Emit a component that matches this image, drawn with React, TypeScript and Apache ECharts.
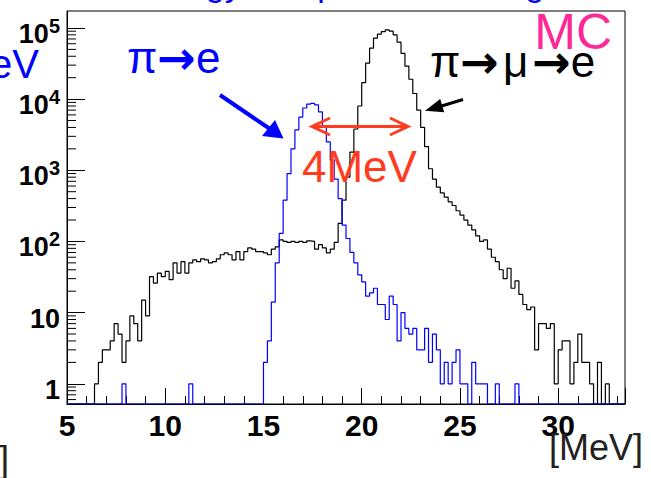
import React, { useEffect, useRef } from "react";
import * as echarts from "echarts";

// Histogram binning (MeV)
const BIN_START = 5;
const BIN_WIDTH = 0.2;
const X_MIN = 5;
const X_MAX = 33.4;
const Y_MIN = 0.52;
const Y_MAX = 173000;

// pi -> mu -> e (black) counts per bin
const piMuE = [
  0, 0, 0, 0, 0, 0, 0, 1, 2, 3,
  3, 4, 7, 5, 2, 4, 9, 7, 4, 15,
  9, 32, 26, 36, 32, 38, 29, 50, 36, 52,
  36, 50, 55, 52, 57, 55, 50, 52, 57, 65,
  69, 65, 55, 72, 55, 72, 81, 78, 72, 72,
  69, 65, 78, 84, 105, 100, 97, 100, 97, 100,
  97, 102, 100, 78, 90, 81, 69, 78, 97, 180,
  380, 800, 1800, 3800, 8000, 17000, 32000, 52000, 72000, 82000,
  89000, 94000, 90000, 80000, 63000, 44000, 29000, 19000, 12000, 7000,
  4000, 2150, 1050, 750, 580, 480, 420, 360, 320, 270,
  235, 200, 170, 145, 120, 100, 105, 78, 60, 52,
  40, 30, 42, 22, 28, 18, 13, 11, 12, 3,
  7, 7, 6, 7, 1, 3, 4, 4, 1, 2,
  5, 2, 2, 1, 0, 2, 0, 1, 0, 0,
  0, 0,
];

// pi -> e (blue) counts per bin
const piE = [
  0, 0, 0, 0, 0, 0, 0, 0, 0, 0,
  0, 0, 0, 0, 1, 0, 0, 0, 0, 0,
  0, 0, 0, 0, 0, 0, 0, 0, 0, 0,
  0, 1, 0, 0, 0, 0, 0, 0, 0, 0,
  0, 0, 0, 0, 0, 0, 0, 0, 0, 0,
  2, 4, 14, 50, 130, 380, 900, 2000, 3700, 5600,
  7500, 8500, 8700, 8300, 6600, 4000, 2500, 1400, 750, 400,
  170, 110, 70, 50, 34, 27, 17, 19, 22, 13,
  13, 8, 17, 13, 4, 10, 6, 5, 6, 3,
  3, 6, 2, 5, 3, 1, 2, 1, 2, 3,
  1, 1, 0, 2, 1, 1, 1, 0, 0, 1,
  0, 0, 0, 0, 1, 0, 0, 0, 0, 0,
  0, 0, 0, 0, 0, 0, 0, 0, 0, 0,
  0, 0, 0, 0, 0, 0, 0, 0, 0, 0,
  0, 0,
];

const xTickLabels = [5, 10, 15, 20, 25, 30];
const yDecades = [0, 1, 2, 3, 4, 5];

const FONT = '"Liberation Sans", Helvetica, Arial, sans-serif';
const ARROW_FONT = '"DejaVu Sans", sans-serif';
const BLUE = "#0000ff";
const RED = "#ff3c1e";
const PINK = "#ff2896";

function toSteps(counts: number[]) {
  const pts: [number, number][] = counts.map((c, i) => [
    +(BIN_START + i * BIN_WIDTH).toFixed(3),
    c > 0 ? c : Y_MIN,
  ]);
  const last = counts[counts.length - 1];
  pts.push([+(BIN_START + counts.length * BIN_WIDTH).toFixed(3), last > 0 ? last : Y_MIN]);
  return pts;
}

// minor ticks of log axis (2..9 x decade), inside axis range
const minorTicks: number[] = [];
[-1, ...yDecades].forEach((d) => {
  for (let m = 2; m <= 9; m++) {
    const v = m * Math.pow(10, d);
    if (v > Y_MIN && v < Y_MAX) minorTicks.push(v);
  }
});

// baseline -> middle y for Liberation Sans
const mid = (baseline: number, size: number) => baseline - 0.3465 * size;

const arrowRich = (color: string) => ({
  t: { fontSize: 44, fontFamily: FONT, fill: color, lineHeight: 36 },
  a: { fontSize: 46, fontFamily: ARROW_FONT, fontWeight: "bold", fill: color, lineHeight: 36 },
  g: { fontSize: 44, fontFamily: FONT, fill: color, lineHeight: 36, padding: [0, 4, 0, 4] },
});

export default function App() {
  const ref = useRef<HTMLDivElement>(null);
  useEffect(() => {
    if (!ref.current) return;
    const chart = echarts.init(ref.current, undefined, { renderer: "svg" });
    const option: any = {
      animation: false,
      backgroundColor: "#ffffff",
      grid: {
        left: 67,
        right: 26,
        top: 11,
        bottom: 74,
        show: true,
        borderColor: "#000",
        borderWidth: 1,
        backgroundColor: "transparent",
      },
      xAxis: [
        {
          type: "value",
          min: X_MIN,
          max: X_MAX,
          interval: 1,
          axisLine: { show: true, lineStyle: { color: "#000", width: 1 } },
          axisTick: { show: true, inside: true, length: 8, lineStyle: { color: "#000" } },
          splitLine: { show: false },
          axisLabel: {
            showMaxLabel: false,
            margin: 6,
            color: "#000",
            fontSize: 30,
            fontWeight: "bold",
            fontFamily: FONT,
            formatter: (v: number) => (xTickLabels.includes(Math.round(v * 1000) / 1000) ? String(Math.round(v)) : ""),
          },
        },
        {
          type: "value",
          min: X_MIN,
          max: X_MAX,
          interval: 5,
          position: "bottom",
          axisLine: { show: false },
          axisTick: { show: true, inside: true, length: 16, lineStyle: { color: "#000" } },
          splitLine: { show: false },
          axisLabel: { show: false },
        },
      ],
      yAxis: {
        type: "log",
        logBase: 10,
        min: Y_MIN,
        max: Y_MAX,
        axisLine: { show: true, lineStyle: { color: "#000", width: 1 } },
        axisTick: { show: true, inside: true, length: 18, lineStyle: { color: "#000" } },
        splitLine: { show: false },
        axisLabel: {
          showMinLabel: false,
          showMaxLabel: false,
          margin: 7,
          padding: [12, 0, 0, 0],
          formatter: (v: number) => {
            const k = Math.round(Math.log10(v));
            if (k === 0) return "{b|1}";
            if (k === 1) return "{b|10}";
            return "{b|10}{s|" + k + "}";
          },
          rich: {
            b: { fontSize: 27, fontWeight: "bold", fontFamily: FONT, color: "#000", lineHeight: 36 },
            s: { fontSize: 20, fontWeight: "bold", fontFamily: FONT, color: "#000", lineHeight: 22, verticalAlign: "top" },
          },
        },
      },
      series: [
        {
          name: "π→μ→e",
          type: "line",
          step: "end",
          data: toSteps(piMuE),
          symbol: "none",
          showSymbol: false,
          lineStyle: { color: "#000", width: 1.2 },
          itemStyle: { color: "#000" },
          z: 2,
          silent: true,
        },
        {
          name: "π→e",
          type: "line",
          step: "end",
          data: toSteps(piE),
          symbol: "none",
          showSymbol: false,
          lineStyle: { color: BLUE, width: 1.2 },
          itemStyle: { color: BLUE },
          z: 3,
          silent: true,
        },
        {
          type: "custom",
          silent: true,
          clip: false,
          z: 4,
          data: minorTicks.map((v) => [X_MIN, v]),
          renderItem: (params: any, api: any) => {
            const p = api.coord([api.value(0), api.value(1)]);
            return {
              type: "line",
              shape: { x1: p[0], y1: p[1], x2: p[0] + 9, y2: p[1] },
              style: { stroke: "#000", lineWidth: 1 },
            };
          },
        },
      ],
      graphic: [
        {
          type: "text",
          z: 100,
          style: { text: "Energy of a positron at target", x: 134, y: mid(-4, 34), fill: BLUE, fontSize: 34, fontFamily: FONT, align: "left", verticalAlign: "middle" },
        },
        {
          type: "text",
          z: 100,
          style: { text: "MeV", x: 39, y: mid(78, 40), fill: BLUE, fontSize: 40, fontFamily: FONT, lineHeight: 34, align: "right", verticalAlign: "middle" },
        },
        {
          type: "text",
          z: 100,
          style: {
            text: "{t|π}{a|→}{t|e}",
            rich: arrowRich(BLUE),
            x: 127,
            y: mid(73, 44),
            align: "left",
            verticalAlign: "middle",
          },
        },
        {
          type: "text",
          z: 100,
          style: {
            text: "{t|π}{a|→}{g|μ}{a|→}{t|e}",
            rich: arrowRich("#000"),
            x: 430,
            y: mid(77, 44),
            align: "left",
            verticalAlign: "middle",
          },
        },
        {
          type: "text",
          z: 100,
          style: { text: "MC", x: 612, y: mid(49, 50), fill: PINK, fontSize: 50, fontFamily: FONT, lineHeight: 38, align: "right", verticalAlign: "middle" },
        },
        {
          type: "text",
          z: 100,
          style: { text: "4MeV", x: 302, y: mid(182, 44), fill: RED, fontSize: 44, fontFamily: FONT, lineHeight: 36, align: "left", verticalAlign: "middle" },
        },
        {
          type: "text",
          z: 100,
          style: { text: "[MeV]", x: 549, y: mid(460, 36), fill: "#222", fontSize: 36, fontFamily: FONT, lineHeight: 34, align: "left", verticalAlign: "middle" },
        },
        {
          type: "text",
          z: 100,
          style: { text: "]", x: -1, y: mid(472, 36), fill: "#222", fontSize: 36, fontFamily: FONT, lineHeight: 34, align: "left", verticalAlign: "middle" },
        },
        // 4 MeV double arrow
        { type: "line", z: 100, shape: { x1: 313, y1: 126.5, x2: 407, y2: 126.5 }, style: { stroke: RED, lineWidth: 3 } },
        { type: "polyline", z: 100, shape: { points: [[330, 118], [312, 126.5], [330, 135]] }, style: { stroke: RED, lineWidth: 3, fill: null } },
        { type: "polyline", z: 100, shape: { points: [[390, 118], [408, 126.5], [390, 135]] }, style: { stroke: RED, lineWidth: 3, fill: null } },
        // blue arrow
        { type: "line", z: 100, shape: { x1: 220, y1: 95, x2: 270, y2: 129 }, style: { stroke: BLUE, lineWidth: 4 } },
        { type: "polygon", z: 100, shape: { points: [[283.5, 138.5], [262, 136], [275, 120]] }, style: { fill: BLUE } },
        // black arrow
        { type: "line", z: 100, shape: { x1: 463, y1: 99.5, x2: 440, y2: 106.5 }, style: { stroke: "#000", lineWidth: 3 } },
        { type: "polygon", z: 100, shape: { points: [[425, 110.7], [444.2, 112.3], [440.2, 98.9]] }, style: { fill: "#000" } },
      ],
    };
    chart.setOption(option);
    return () => chart.dispose();
  }, []);
  return (
    <div
      ref={ref}
      style={{ position: "fixed", left: 0, top: 0, width: 651, height: 478, background: "#fff" }}
    />
  );
}
